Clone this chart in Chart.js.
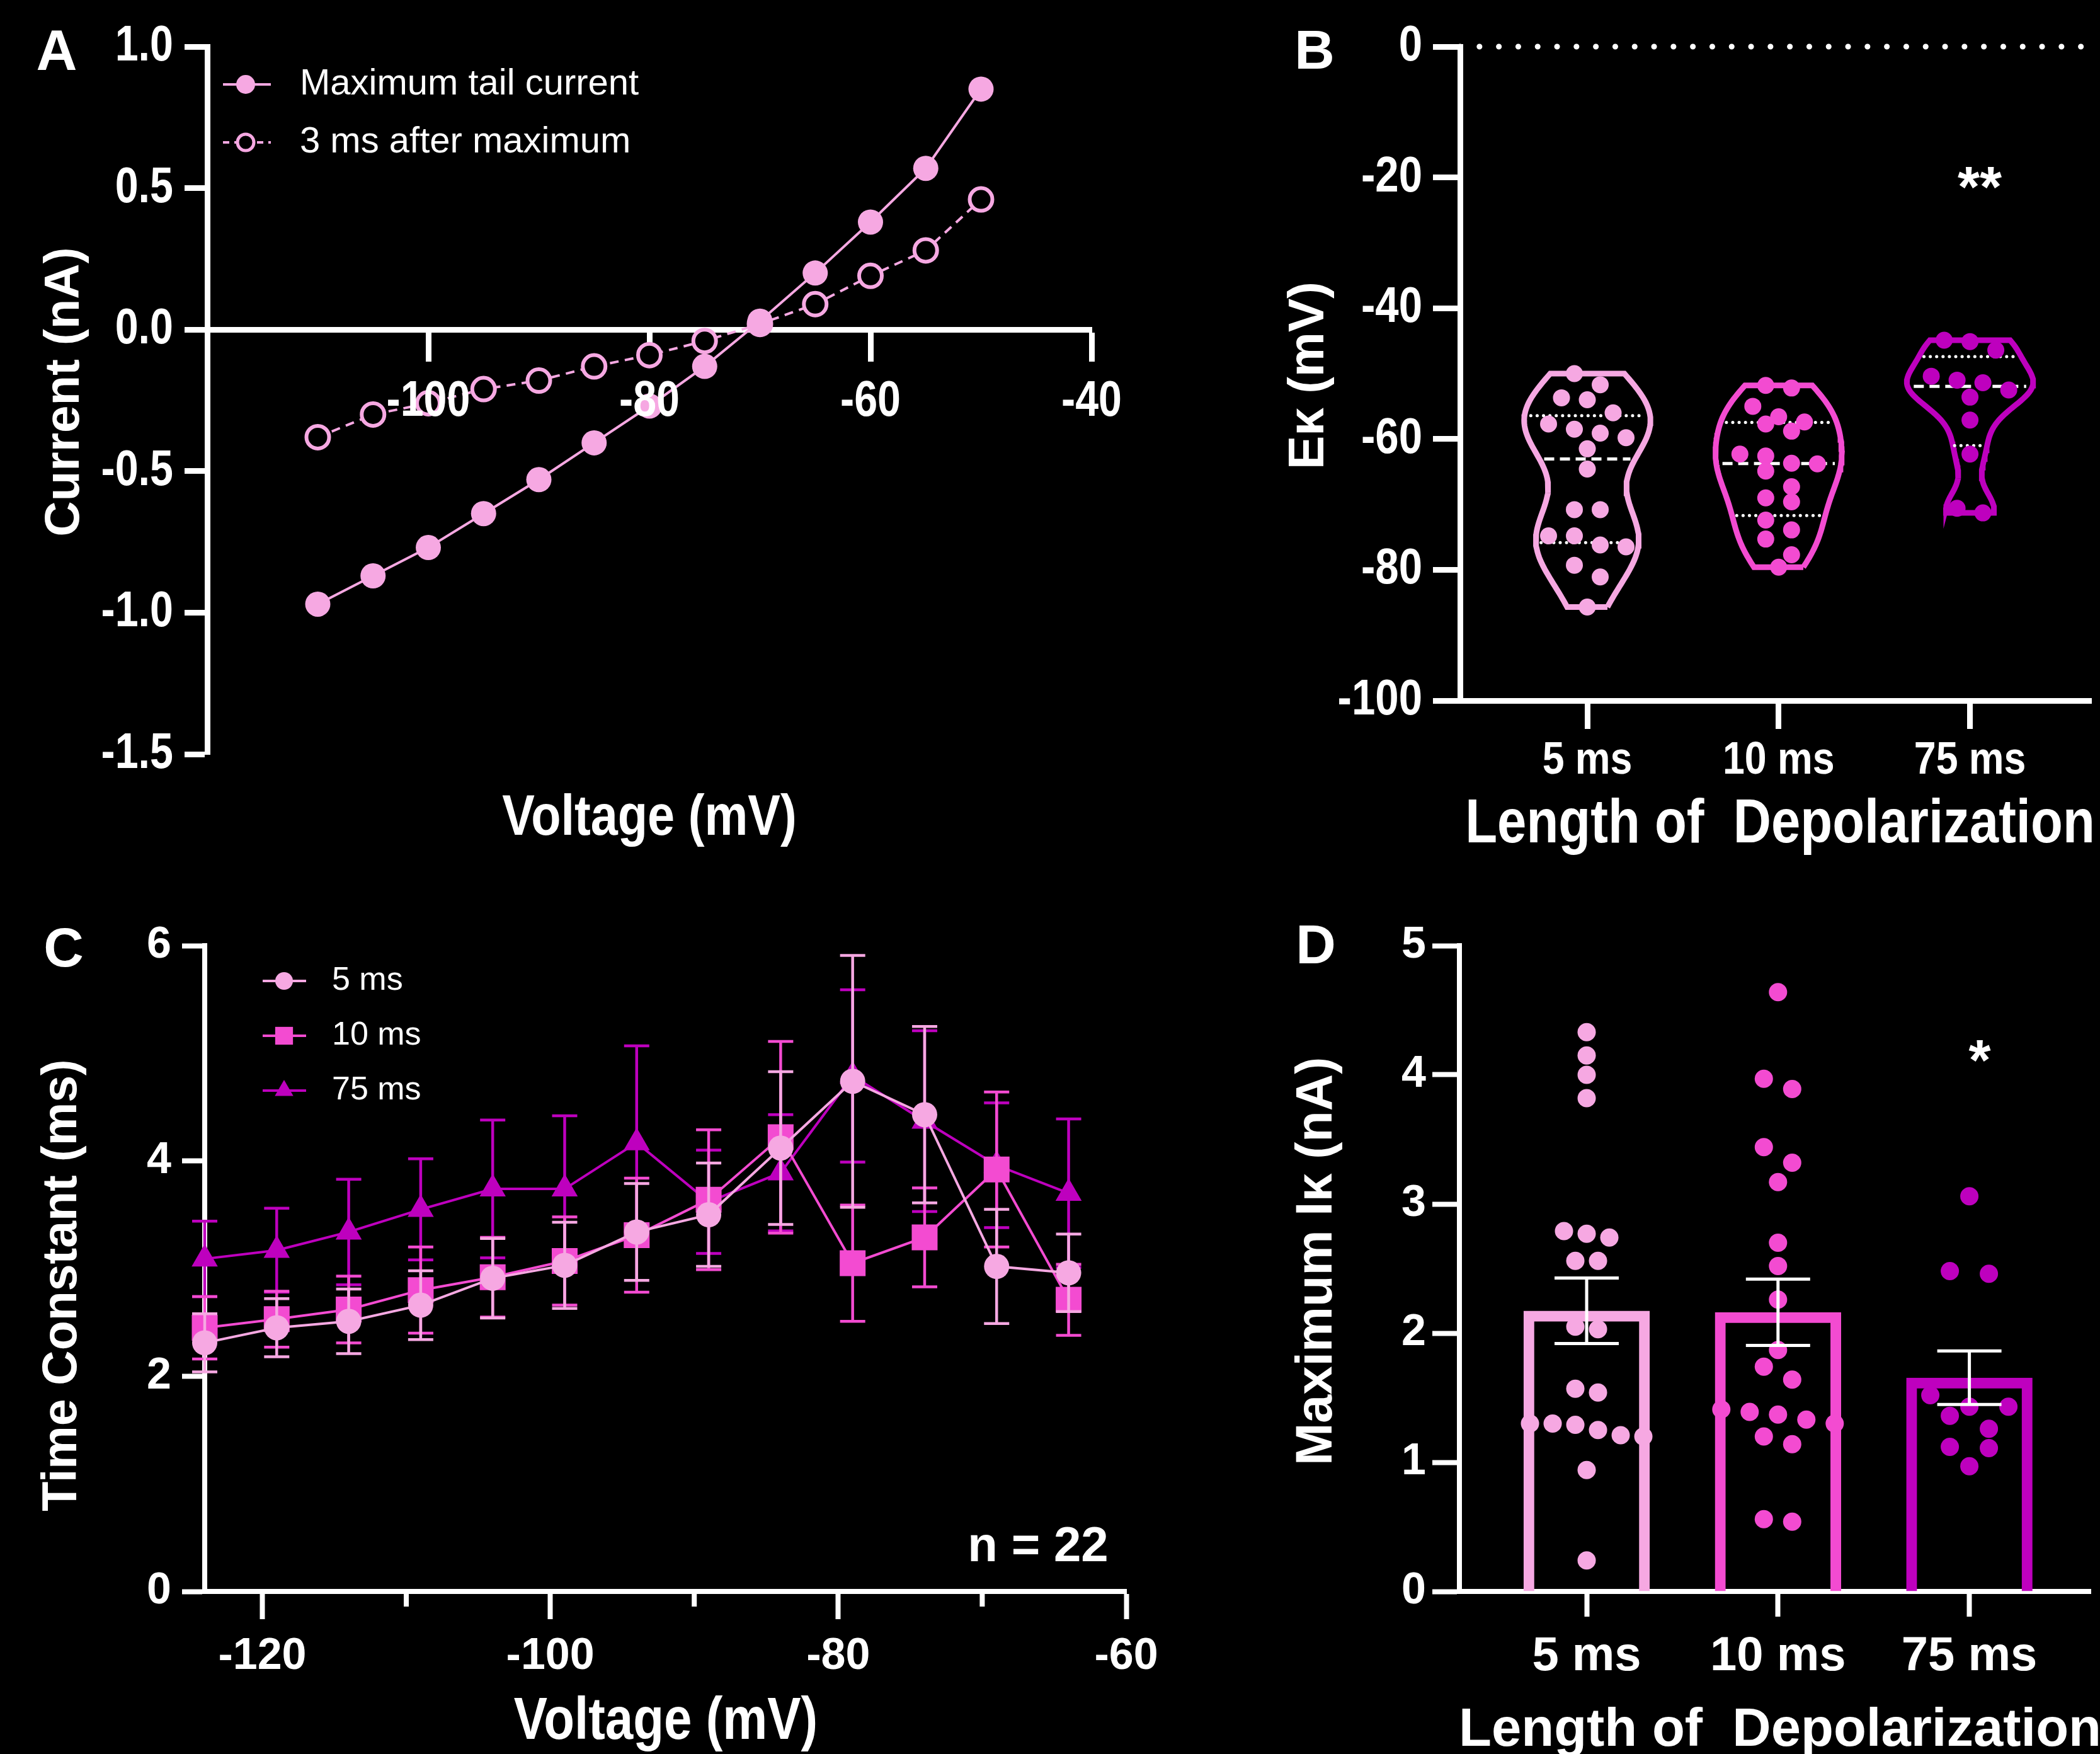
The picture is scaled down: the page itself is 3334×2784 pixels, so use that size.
<!DOCTYPE html>
<html>
<head>
<meta charset="utf-8">
<title>Tail currents</title>
<script src="https://cdn.jsdelivr.net/npm/chart.js@4.4.1/dist/chart.umd.min.js"></script>
<style>
  html, body { margin: 0; padding: 0; background: #000; }
  body { width: 3334px; height: 2784px; position: relative; overflow: hidden; }
  canvas { position: absolute; }
</style>
</head>
<body>
<canvas id="panelA" width="1900" height="1400" style="left:0;top:0;width:1900px;height:1400px"></canvas>
<canvas id="panelB" width="1434" height="1400" style="left:1900px;top:0;width:1434px;height:1400px"></canvas>
<canvas id="panelC" width="1900" height="1384" style="left:0;top:1400px;width:1900px;height:1384px"></canvas>
<canvas id="panelD" width="1434" height="1384" style="left:1900px;top:1400px;width:1434px;height:1384px"></canvas>
<script>
// ---------- data ----------
// A: tail current vs voltage
const ivVoltage = [-110, -105, -100, -95, -90, -85, -80, -75, -70, -65, -60, -55, -50];
const ivPeakTail = [-0.97, -0.87, -0.77, -0.65, -0.53, -0.40, -0.27, -0.13, 0.03, 0.20, 0.38, 0.57, 0.85];
const ivTail3ms = [-0.38, -0.30, -0.26, -0.21, -0.18, -0.13, -0.09, -0.04, 0.02, 0.09, 0.19, 0.28, 0.46];
const ivXTicks = [-100, -80, -60, -40];
const ivYTicks = [1.0, 0.5, 0.0, -0.5, -1.0, -1.5];

// B: reversal potential per cell
const groupLabels = ['5 ms', '10 ms', '75 ms'];
const ekDep5 = [-50.0, -51.7, -53.7, -54.0, -56.0, -57.7, -58.5, -59.1, -59.8, -61.5, -64.6, -70.8, -70.8, -74.8, -74.8, -76.2, -76.5, -79.3, -81.1, -85.7];
const ekDep10 = [-51.8, -52.2, -55.0, -56.6, -57.4, -57.7, -58.8, -62.3, -62.6, -63.7, -63.8, -64.9, -67.3, -69.0, -69.6, -72.4, -73.9, -75.3, -77.7, -79.6];
const ekDep75 = [-44.9, -45.1, -46.4, -50.4, -51.0, -51.4, -52.5, -53.6, -57.1, -62.3, -70.6, -71.3];
const ekYTicks = [0, -20, -40, -60, -80, -100];
const violinBandwidth = [5.0, 4.0, 3.0];

// C: time constants (mean +/- SEM)
const tauVoltage = [-124, -119, -114, -109, -104, -99, -94, -89, -84, -79, -74, -69, -64];
const tau5 = [2.31, 2.45, 2.51, 2.66, 2.91, 3.03, 3.34, 3.50, 4.12, 4.74, 4.43, 3.02, 2.96];
const tau5Sem = [0.27, 0.27, 0.30, 0.32, 0.37, 0.40, 0.45, 0.48, 0.71, 1.17, 0.82, 0.53, 0.36];
const tau10 = [2.45, 2.53, 2.62, 2.80, 2.92, 3.07, 3.31, 3.64, 4.22, 3.05, 3.29, 3.92, 2.71];
const tau10Sem = [0.29, 0.26, 0.31, 0.40, 0.37, 0.41, 0.53, 0.65, 0.89, 0.54, 0.46, 0.72, 0.33];
const tau75 = [3.09, 3.17, 3.34, 3.55, 3.74, 3.74, 4.17, 3.62, 3.89, 4.79, 4.37, 3.96, 3.70];
const tau75Sem = [0.35, 0.39, 0.49, 0.47, 0.64, 0.68, 0.90, 0.48, 0.54, 0.80, 0.84, 0.58, 0.69];
const tauXTicks = [-120, -100, -80, -60];
const tauXMinor = [-110, -90, -70];
const tauYTicks = [0, 2, 4, 6];

// D: maximum IK per cell
const ikDep5 = [4.33, 4.15, 4.00, 3.82, 2.79, 2.77, 2.74, 2.56, 2.56, 2.05, 2.03, 1.57, 1.54, 1.30, 1.30, 1.29, 1.25, 1.21, 1.20, 0.94, 0.24];
const ikDep10 = [4.64, 3.97, 3.89, 3.44, 3.32, 3.17, 2.70, 2.52, 2.26, 1.87, 1.74, 1.64, 1.41, 1.39, 1.37, 1.33, 1.30, 1.20, 1.14, 0.56, 0.54];
const ikDep75 = [3.06, 2.48, 2.46, 1.52, 1.43, 1.43, 1.36, 1.26, 1.12, 1.11, 0.97];
const ikYTicks = [0, 1, 2, 3, 4, 5];

// ---------- style ----------
const PINK = '#F6A8E2';
const MAGENTA = '#F34BD1';
const PURPLE = '#BE00BE';
const WHITE = '#FFFFFF';
const groupColors = [PINK, MAGENTA, PURPLE];
const SANS = '"Liberation Sans", Arial, sans-serif';

Chart.defaults.font.family = SANS;
Chart.defaults.color = WHITE;

// ---------- helpers ----------
function mean(a) {
    return a.reduce((s, v) => s + v, 0) / a.length;
}

function sem(a) {
    const m = mean(a);
    const v = a.reduce((s, x) => s + (x - m) * (x - m), 0) / (a.length - 1);
    return Math.sqrt(v / a.length);
}

// percentile as GraphPad does it, position (n+1)p
function quartile(a, p) {
    const s = a.slice().sort((x, y) => x - y);
    const pos = (s.length + 1) * p;
    const k = Math.floor(pos);
    if (k < 1) return s[0];
    if (k >= s.length) return s[s.length - 1];
    return s[k - 1] + (pos - k) * (s[k] - s[k - 1]);
}

// gaussian kernel density, cut at min and max like a GraphPad violin
function violin(values, center, bw, halfWidth) {
    const f = y => values.reduce((s, v) => s + Math.exp(-0.5 * ((y - v) / bw) ** 2), 0);
    const lo = Math.min(...values), hi = Math.max(...values);
    const ys = [];
    for (let i = 0; i <= 80; i++) ys.push(lo + (hi - lo) * i / 80);
    const peak = Math.max(...ys.map(f));
    const w = y => f(y) / peak * halfWidth;
    const right = ys.map(y => ({ x: center + w(y), y }));
    const left = ys.slice().reverse().map(y => ({ x: center - w(y), y }));
    return { outline: right.concat(left, [right[0]]), width: w };
}

// spread points that sit at the same height into symmetric rows
function swarmOffsets(values, pxPerUnit, rowPx, spacingMax, spanMax) {
    const order = values.map((v, i) => i).sort((a, b) => values[b] - values[a]);
    const rows = [];
    order.forEach(i => {
        const row = rows[rows.length - 1];
        if (row && (values[row[0]] - values[i]) * pxPerUnit < rowPx) row.push(i);
        else rows.push([i]);
    });
    const widest = Math.max(...rows.map(r => r.length));
    const step = widest > 1 ? Math.min(spacingMax, spanMax / (widest - 1)) : spacingMax;
    const offs = [];
    rows.forEach(r => r.forEach((i, k) => { offs[i] = (k - (r.length - 1) / 2) * step; }));
    return offs;
}

function placeDots(chart, groups, rowPx, spacingMax, spanMax) {
    const xs = chart.scales.x, ys = chart.scales.y;
    const pxX = xs.getPixelForValue(1) - xs.getPixelForValue(0);
    const pxY = Math.abs(ys.getPixelForValue(1) - ys.getPixelForValue(0));
    groups.forEach(g => {
        const offs = swarmOffsets(g.values, pxY, rowPx, spacingMax, spanMax);
        chart.data.datasets[g.index].data = g.values.map((v, i) => ({ x: g.center + offs[i] / pxX, y: v }));
    });
    chart.update('none');
}

function fixedTicks(list) {
    return scale => { scale.ticks = list.map(v => ({ value: v })); };
}

function axisLines(lineW, tickLen) {
    return {
        grid: { drawOnChartArea: false, drawTicks: true, tickLength: tickLen, tickWidth: lineW, tickColor: WHITE, color: WHITE },
        border: { display: true, color: WHITE, width: lineW }
    };
}

// text squeezed horizontally (the figure uses a condensed face)
function stretchText(ctx, text, x, y, sx, align) {
    ctx.save();
    ctx.translate(x, y);
    ctx.scale(sx, 1);
    ctx.textAlign = align;
    ctx.fillText(text, 0, 0);
    ctx.restore();
}

function drawMarker(ctx, style, x, y, r, fill, stroke, bw) {
    ctx.beginPath();
    if (style === 'rect') {
        const h = r * Math.SQRT1_2;
        ctx.rect(x - h, y - h, 2 * h, 2 * h);
    } else if (style === 'triangle') {
        for (let k = 0; k < 3; k++) {
            const a = k * 2 * Math.PI / 3;
            ctx.lineTo(x + Math.sin(a) * r, y - Math.cos(a) * r);
        }
        ctx.closePath();
    } else {
        ctx.arc(x, y, r, 0, Math.PI * 2);
    }
    ctx.fillStyle = fill;
    ctx.fill();
    if (bw) {
        ctx.lineWidth = bw;
        ctx.strokeStyle = stroke;
        ctx.stroke();
    }
}

function drawErrors(chart, index) {
    const ds = chart.data.datasets[index];
    const meta = chart.getDatasetMeta(index);
    const yScale = chart.scales[meta.yAxisID];
    const ctx = chart.ctx;
    ctx.save();
    ctx.strokeStyle = ds.errorColor || ds.borderColor;
    ctx.lineWidth = ds.errorWidth;
    meta.data.forEach((el, j) => {
        const d = ds.data[j];
        const v = typeof d === 'object' ? d.y : d;
        const e = ds.errors[j];
        const yTop = yScale.getPixelForValue(v + e);
        const yBot = yScale.getPixelForValue(v - e);
        const half = ds.capWidth / 2;
        ctx.beginPath();
        ctx.moveTo(el.x, yTop); ctx.lineTo(el.x, yBot);
        ctx.moveTo(el.x - half, yTop); ctx.lineTo(el.x + half, yTop);
        ctx.moveTo(el.x - half, yBot); ctx.lineTo(el.x + half, yBot);
        ctx.stroke();
    });
    ctx.restore();
}

// ---------- plugins ----------
const errorBarPlugin = {
    id: 'errorBars',
    beforeDatasetDraw(chart, args) {
        const ds = chart.data.datasets[args.index];
        if (ds.errors && !ds.errorsOnTop) drawErrors(chart, args.index);
    },
    afterDatasetsDraw(chart) {
        chart.data.datasets.forEach((ds, i) => {
            if (ds.errors && ds.errorsOnTop) drawErrors(chart, i);
        });
    }
};

const minorTickPlugin = {
    id: 'minorTicks',
    afterDraw(chart, args, opts) {
        if (!opts || !opts.values) return;
        const xs = chart.scales.x;
        const ctx = chart.ctx;
        const y0 = chart.chartArea.bottom + opts.offset;
        ctx.save();
        ctx.strokeStyle = WHITE;
        ctx.lineWidth = opts.width;
        opts.values.forEach(v => {
            const px = xs.getPixelForValue(v);
            ctx.beginPath();
            ctx.moveTo(px, y0);
            ctx.lineTo(px, y0 + opts.length);
            ctx.stroke();
        });
        ctx.restore();
    }
};

// tick labels of the condensed panels, taken from the scales' own ticks
const narrowTickPlugin = {
    id: 'narrowTicks',
    afterDraw(chart, args, opts) {
        if (!opts || !opts.yFont) return;
        const ctx = chart.ctx;
        const xs = chart.scales.x, ys = chart.scales.y;
        const axisY = opts.xAt !== undefined ? ys.getPixelForValue(opts.xAt) : chart.chartArea.bottom;
        ctx.save();
        ctx.fillStyle = WHITE;
        ctx.textBaseline = 'middle';
        ctx.font = opts.xFont;
        xs.ticks.forEach((t, i) => stretchText(ctx, t.label, xs.getPixelForTick(i), axisY + opts.xOffset, opts.xStretch, 'center'));
        ctx.font = opts.yFont;
        ys.ticks.forEach((t, i) => stretchText(ctx, t.label, chart.chartArea.left - opts.yOffset, ys.getPixelForTick(i), opts.yStretch, 'right'));
        ctx.restore();
    }
};

const lineLegendPlugin = {
    id: 'lineLegend',
    afterDraw(chart, args, opts) {
        if (!opts || opts.y === undefined) return;
        const ctx = chart.ctx;
        chart.data.datasets.forEach((ds, i) => {
            if (!ds.legendRadius) return;
            const y = opts.y + i * opts.gap;
            ctx.save();
            ctx.strokeStyle = ds.borderColor;
            ctx.lineWidth = opts.lineWidth;
            ctx.setLineDash(ds.borderDash ? opts.dash : []);
            ctx.beginPath();
            ctx.moveTo(opts.x0, y);
            ctx.lineTo(opts.x1, y);
            ctx.stroke();
            ctx.setLineDash([]);
            drawMarker(ctx, ds.pointStyle, opts.mx, y, ds.legendRadius,
                ds.pointBackgroundColor, ds.pointBorderColor, ds.legendBorder || 0);
            ctx.fillStyle = WHITE;
            ctx.font = opts.font;
            ctx.textAlign = 'left';
            ctx.textBaseline = 'middle';
            ctx.fillText(ds.label, opts.tx, y);
            ctx.restore();
        });
    }
};

const panelTextPlugin = {
    id: 'panelText',
    afterDraw(chart, args, opts) {
        if (!opts || !opts.items) return;
        const ctx = chart.ctx;
        opts.items.forEach(it => {
            ctx.save();
            ctx.fillStyle = WHITE;
            ctx.font = it.font;
            ctx.textAlign = 'center';
            ctx.textBaseline = 'middle';
            ctx.translate(it.x, it.y);
            if (it.rotate) ctx.rotate(it.rotate * Math.PI / 180);
            if (it.sx) ctx.scale(it.sx, 1);
            ctx.fillText(it.text, 0, 0);
            ctx.restore();
        });
    }
};

Chart.register(errorBarPlugin, minorTickPlugin, narrowTickPlugin, lineLegendPlugin, panelTextPlugin);

function baseOptions(padding) {
    return {
        responsive: false,
        animation: false,
        devicePixelRatio: 1,
        events: [],
        layout: { padding },
        plugins: { legend: { display: false }, tooltip: { enabled: false }, title: { display: false } }
    };
}

// ---------- panel A ----------
const optsA = baseOptions({ top: 74, right: 167, bottom: 203, left: 0 });
optsA.scales = {
    x: Object.assign({
        type: 'linear', position: { y: 0 }, min: -120, max: -40,
        afterBuildTicks: fixedTicks(ivXTicks),
        ticks: { display: false, autoSkip: false }
    }, axisLines(9, 46)),
    y: Object.assign({
        type: 'linear', position: 'left', min: -1.5, max: 1.0,
        afterBuildTicks: fixedTicks(ivYTicks),
        afterFit: s => { s.width = 329; },
        ticks: { display: false, callback: v => v.toFixed(1) }
    }, axisLines(9, 36))
};
optsA.plugins.narrowTicks = {
    xAt: 0, xOffset: 115, xFont: `bold 80px ${SANS}`, xStretch: 0.83,
    yOffset: 54, yFont: `bold 80px ${SANS}`, yStretch: 0.83
};
optsA.plugins.lineLegend = { y: 134, gap: 92, x0: 354, x1: 430, mx: 390, tx: 476, lineWidth: 4, dash: [10, 8], font: `58px ${SANS}` };
optsA.plugins.panelText = { items: [
    { text: 'A', x: 90, y: 86, font: `bold 90px ${SANS}` },
    { text: 'Current (nA)', x: 103, y: 622, rotate: -90, font: `bold 78px ${SANS}` },
    { text: 'Voltage (mV)', x: 1031, y: 1300, sx: 0.86, font: `bold 90px ${SANS}` }
] };

new Chart(document.getElementById('panelA'), {
    type: 'line',
    data: {
        datasets: [
            {
                label: 'Maximum tail current',
                data: ivVoltage.map((v, i) => ({ x: v, y: ivPeakTail[i] })),
                borderColor: PINK, borderWidth: 4,
                pointStyle: 'circle', pointRadius: 20, pointBackgroundColor: PINK, pointBorderColor: PINK, pointBorderWidth: 0,
                legendRadius: 15, clip: false
            },
            {
                label: '3 ms after maximum',
                data: ivVoltage.map((v, i) => ({ x: v, y: ivTail3ms[i] })),
                borderColor: PINK, borderWidth: 4, borderDash: [14, 10],
                pointStyle: 'circle', pointRadius: 18, pointBackgroundColor: '#000000', pointBorderColor: PINK, pointBorderWidth: 6,
                legendRadius: 13, legendBorder: 5, clip: false
            }
        ]
    },
    options: optsA
});

// ---------- panel B ----------
const catMin = 0.335, catMax = 3.635;
const ekGroups = [ekDep5, ekDep10, ekDep75];
const dotsB = [];
const quartLines = [];
const violinsB = [];
ekGroups.forEach((vals, gi) => {
    const c = gi + 1;
    const v = violin(vals, c, violinBandwidth[gi], 0.33);
    violinsB.push({
        type: 'line', data: v.outline, borderColor: groupColors[gi], borderWidth: 9,
        pointRadius: 0, fill: false, tension: 0, order: 2, clip: false
    });
    [[0.25, 'dot'], [0.5, 'dash'], [0.75, 'dot']].forEach(([p, kind]) => {
        const q = quartile(vals, p);
        const hw = v.width(q) * 0.9;
        quartLines.push({
            type: 'line', data: [{ x: c - hw, y: q }, { x: c + hw, y: q }],
            borderColor: WHITE, borderWidth: 5,
            borderDash: kind === 'dash' ? [16, 9] : [0.1, 10], borderCapStyle: kind === 'dash' ? 'butt' : 'round',
            pointRadius: 0, order: 1, clip: false
        });
    });
    dotsB.push({
        type: 'scatter', data: vals.map(y => ({ x: c, y })),
        pointRadius: 13.5, pointBackgroundColor: groupColors[gi], pointBorderWidth: 0, order: 0, clip: false
    });
});
const zeroLine = {
    type: 'line', data: [{ x: catMin, y: 0 }, { x: catMax, y: 0 }],
    borderColor: WHITE, borderWidth: 9, borderDash: [0.1, 30.7], borderCapStyle: 'round',
    pointRadius: 0, order: 3, clip: false
};

const optsB = baseOptions({ top: 74, right: 0, bottom: 0, left: 0 });
optsB.scales = {
    x: Object.assign({
        type: 'linear', position: 'bottom', min: catMin, max: catMax, offset: false,
        afterBuildTicks: fixedTicks([1, 2, 3]),
        afterFit: s => { s.height = 288; },
        ticks: { display: false, autoSkip: false, callback: v => groupLabels[v - 1] }
    }, axisLines(9, 45)),
    y: Object.assign({
        type: 'linear', position: 'left', min: -100, max: 0,
        afterBuildTicks: fixedTicks(ekYTicks),
        afterFit: s => { s.width = 418; },
        ticks: { display: false }
    }, axisLines(9, 43))
};
optsB.plugins.narrowTicks = {
    xOffset: 96, xFont: `bold 72px ${SANS}`, xStretch: 0.87,
    yOffset: 60, yFont: `bold 80px ${SANS}`, yStretch: 0.84
};
optsB.plugins.panelText = { items: [
    { text: 'B', x: 187, y: 85, font: `bold 88px ${SANS}` },
    { text: 'E\u03BA (mV)', x: 179, y: 596, rotate: -90, font: `bold 80px ${SANS}` },
    { text: 'Length of  Depolarization', x: 926, y: 1310, sx: 0.85, font: `bold 98px ${SANS}` },
    { text: '**', x: 1243, y: 303, font: `bold 90px ${SANS}` }
] };

const chartB = new Chart(document.getElementById('panelB'), {
    type: 'line',
    data: { datasets: dotsB.concat(quartLines, violinsB, [zeroLine]) },
    options: optsB
});
placeDots(chartB, ekGroups.map((vals, gi) => ({ index: gi, values: vals, center: gi + 1 })), 26, 41, 200);

// ---------- panel C ----------
const optsC = baseOptions({ top: 101, right: 112, bottom: 0, left: 0 });
optsC.scales = {
    x: Object.assign({
        type: 'linear', position: 'bottom', min: -124, max: -60,
        afterBuildTicks: fixedTicks(tauXTicks),
        afterFit: s => { s.height = 258; },
        ticks: { font: { size: 70, weight: 'bold' }, padding: 18, maxRotation: 0, autoSkip: false }
    }, axisLines(8, 44)),
    y: Object.assign({
        type: 'linear', position: 'left', min: 0, max: 6,
        afterBuildTicks: fixedTicks(tauYTicks),
        afterFit: s => { s.width = 325; },
        ticks: { font: { size: 70, weight: 'bold' }, padding: 17 }
    }, axisLines(8, 36))
};
optsC.plugins.minorTicks = { values: tauXMinor, offset: 4, length: 20, width: 8 };
optsC.plugins.lineLegend = { y: 157, gap: 87, x0: 417, x1: 486, mx: 451, tx: 527, lineWidth: 4, dash: [], font: `52px ${SANS}` };
optsC.plugins.panelText = { items: [
    { text: 'C', x: 101, y: 110, font: `bold 88px ${SANS}` },
    { text: 'Time Constant (ms)', x: 100, y: 640, rotate: -90, font: `bold 77px ${SANS}` },
    { text: 'Voltage (mV)', x: 1057, y: 1334, sx: 0.85, font: `bold 94px ${SANS}` },
    { text: 'n = 22', x: 1648, y: 1056, font: `bold 78px ${SANS}` }
] };

function tauSeries(label, means, errs, color, style, radius, legendRadius) {
    return {
        label, data: tauVoltage.map((v, i) => ({ x: v, y: means[i] })), errors: errs,
        borderColor: color, borderWidth: 4, errorWidth: 4.5, capWidth: 40,
        pointStyle: style, pointRadius: radius, pointBackgroundColor: color, pointBorderColor: color, pointBorderWidth: 0,
        legendRadius, clip: false
    };
}

new Chart(document.getElementById('panelC'), {
    type: 'line',
    data: {
        datasets: [
            tauSeries('5 ms', tau5, tau5Sem, PINK, 'circle', 20, 14),
            tauSeries('10 ms', tau10, tau10Sem, MAGENTA, 'rect', 29, 20),
            tauSeries('75 ms', tau75, tau75Sem, PURPLE, 'triangle', 24, 17)
        ]
    },
    options: optsC
});

// ---------- panel D ----------
const ikGroups = [ikDep5, ikDep10, ikDep75];
const optsD = baseOptions({ top: 101, right: 0, bottom: 0, left: 0 });
optsD.scales = {
    x: Object.assign({
        type: 'linear', position: 'bottom', min: catMin, max: catMax, offset: false,
        afterBuildTicks: fixedTicks([1, 2, 3]),
        afterFit: s => { s.height = 258; },
        ticks: { font: { size: 76, weight: 'bold' }, padding: 18, maxRotation: 0, autoSkip: false,
                 callback: v => groupLabels[v - 1] }
    }, axisLines(8, 40)),
    y: Object.assign({
        type: 'linear', position: 'left', min: 0, max: 5,
        afterBuildTicks: fixedTicks(ikYTicks),
        afterFit: s => { s.width = 417; },
        ticks: { font: { size: 70, weight: 'bold' }, padding: 10 }
    }, axisLines(8, 43))
};
optsD.scales.x.grid.offset = false;
optsD.plugins.panelText = { items: [
    { text: 'D', x: 189, y: 105, font: `bold 88px ${SANS}` },
    { text: 'Maximum I\u03BA (nA)', x: 192, y: 602, rotate: -90, font: `bold 81px ${SANS}` },
    { text: 'Length of  Depolarization', x: 926, y: 1348, font: `bold 85px ${SANS}` },
    { text: '*', x: 1243, y: 289, font: `bold 90px ${SANS}` }
] };

const chartD = new Chart(document.getElementById('panelD'), {
    type: 'bar',
    data: {
        datasets: ikGroups.map((vals, gi) => ({
            type: 'scatter', data: vals.map(y => ({ x: gi + 1, y })),
            pointRadius: 14.5, pointBackgroundColor: groupColors[gi], pointBorderWidth: 0, order: 0, clip: false
        })).concat([{
            type: 'bar',
            data: ikGroups.map((vals, gi) => ({ x: gi + 1, y: mean(vals) })),
            errors: ikGroups.map(sem), errorsOnTop: true, errorColor: WHITE, errorWidth: 5, capWidth: 102,
            backgroundColor: 'rgba(0,0,0,0)', borderColor: groupColors, borderWidth: 17, borderSkipped: 'start',
            barPercentage: 0.66, categoryPercentage: 1, order: 1
        }])
    },
    options: optsD
});
placeDots(chartD, ikGroups.map((vals, gi) => ({ index: gi, values: vals, center: gi + 1 })), 25, 62, 180);
</script>
</body>
</html>
